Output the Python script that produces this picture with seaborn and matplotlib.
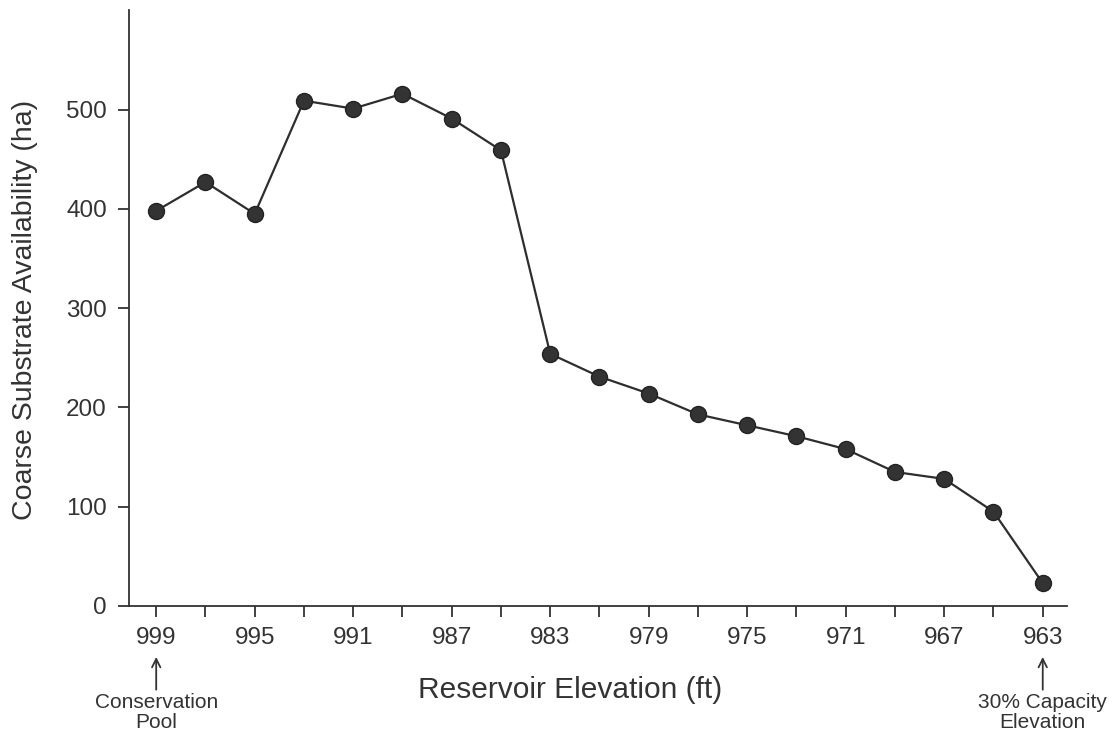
import matplotlib
matplotlib.use("Agg")
import matplotlib.pyplot as plt
import seaborn as sns
import pandas as pd

elevation = [999, 997, 995, 993, 991, 989, 987, 985, 983, 981, 979, 977, 975, 973, 971, 969, 967, 965, 963]
availability = [398, 427, 395, 509, 501, 516, 491, 459, 254, 231, 214, 193, 182, 171, 158, 135, 128, 95, 23]
x_ticklabels = [999, 995, 991, 987, 983, 979, 975, 971, 967, 963]
y_ticks = [0, 100, 200, 300, 400, 500]

sns.set_theme(style="ticks")
plt.rcParams['font.family'] = ['Liberation Sans', 'DejaVu Sans']

df = pd.DataFrame({"elev": elevation, "avail": availability})

fig = plt.figure(figsize=(11.13, 7.39), dpi=100)
ax = fig.add_axes([0.116, 0.180, 0.843, 0.806])

sns.lineplot(data=df, x="elev", y="avail", ax=ax, color="#2e2e2e", linewidth=1.6,
             marker="o", markersize=11.5, markerfacecolor="#333333", markeredgecolor="#222222",
             markeredgewidth=1.0, sort=False)

ax.set_xlim(1000.1, 962.0)
ax.set_ylim(0, 600)
ax.set_xticks(list(range(999, 962, -2)))
ax.set_xticklabels([str(v) if v in x_ticklabels else "" for v in range(999, 962, -2)])
ax.set_yticks(y_ticks)
ax.tick_params(axis="both", direction="out", length=8, width=1.3, colors="#333333",
               labelsize=17.5, labelcolor="#333333")
ax.tick_params(axis="x", pad=7)
ax.tick_params(axis="y", pad=8)
for s in ["top", "right"]:
    ax.spines[s].set_visible(False)
for s in ["left", "bottom"]:
    ax.spines[s].set_color("#333333")
    ax.spines[s].set_linewidth(1.3)

ax.set_xlabel("Reservoir Elevation (ft)", fontsize=21.5, color="#333333", va="center")
ax.xaxis.set_label_coords(0.470, -0.141)
ax.set_ylabel("Coarse Substrate Availability (ha)", fontsize=20.5, color="#333333", va="center")
ax.yaxis.set_label_coords(-0.111, 0.497)

trans = ax.get_xaxis_transform()
for xv, txt in [(999, "Conservation\nPool"), (963, "30% Capacity\nElevation")]:
    ax.annotate(txt, xy=(xv, -0.0856), xycoords=trans,
                xytext=(0, -36), textcoords="offset pixels", ha="center", va="top",
                fontsize=15, color="#333333", linespacing=1.05,
                arrowprops=dict(arrowstyle="->", color="#333333", lw=1.3, shrinkA=0, shrinkB=0))

fig.savefig("out.png", dpi=100)
